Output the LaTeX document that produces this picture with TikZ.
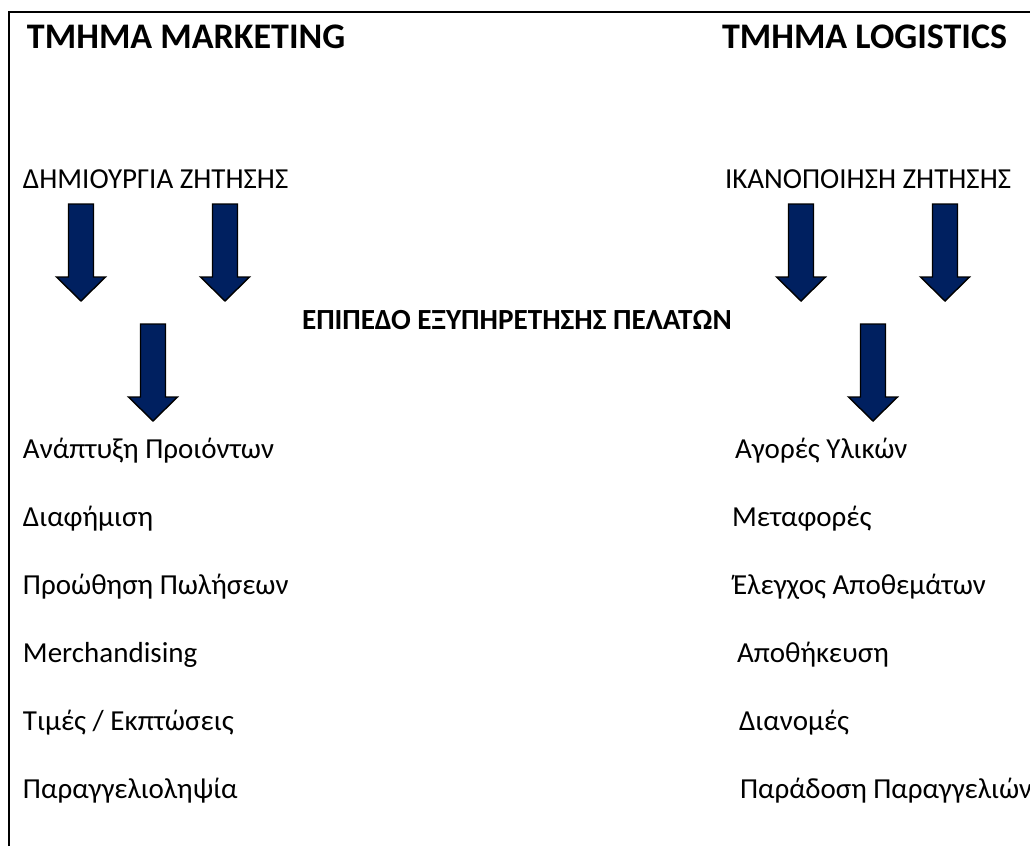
\documentclass[tikz,border=0pt]{standalone}
\usepackage{fontspec}
\setmainfont{Carlito}
\definecolor{navy}{HTML}{002060}
\tikzset{
  every node/.style={inner sep=0pt, outer sep=0pt},
  ttl/.style={anchor=base west, font=\fontsize{36}{40}\selectfont\bfseries},
  hdr/.style={anchor=base west, font=\fontsize{29}{33}\selectfont},
  mid/.style={anchor=base west, font=\fontsize{29.2}{33}\selectfont\bfseries},
  item/.style={anchor=base west, font=\fontsize{29}{33}\selectfont},
  frame/.style={line width=1.7pt, black},
  darr/.pic={\filldraw[fill=navy, draw=black, line width=1.4pt, line join=miter]
     (-12.5,0) -- (12.5,0) -- (12.5,73) -- (24.5,73) -- (0,97) -- (-24.5,73) -- (-12.5,73) -- cycle;}
}
\begin{document}
\begin{tikzpicture}[x=1pt,y=-1pt]
\useasboundingbox (0,0) rectangle (1030,846);
\draw[frame] (9,846) -- (9,12) -- (1030,12);
\node[ttl] (tl) at (27,48) {TMHMA MARKETING};
\node[ttl] (tr) at (722,48) {TMHMA LOGISTICS};
\node[hdr] (hl) at (23,188) {ΔΗΜΙΟΥΡΓΙΑ ΖΗΤΗΣΗΣ};
\node[hdr] (hr) at (725,188) {ΙΚΑΝΟΠΟΙΗΣΗ ΖΗΤΗΣΗΣ};
\node[mid] (mid) at (302,329) {ΕΠΙΠΕΔΟ ΕΞΥΠΗΡΕΤΗΣΗΣ ΠΕΛΑΤΩΝ};
\pic at (81,204) {darr};
\pic at (225,204) {darr};
\pic at (153,324) {darr};
\pic at (801,204) {darr};
\pic at (945,204) {darr};
\pic at (873,324) {darr};
\node[item] (l1) at (23,458) {Ανάπτυξη Προιόντων};
\node[item] (l2) at (23,526) {Διαφήμιση};
\node[item] (l3) at (23,594) {Προώθηση Πωλήσεων};
\node[item] (l4) at (23,662) {Merchandising};
\node[item] (l5) at (23,730) {Τιμές / Εκπτώσεις};
\node[item] (l6) at (23,798) {Παραγγελιοληψία};
\node[item] (r1) at (735,458) {Αγορές Υλικών};
\node[item] (r2) at (732,526) {Μεταφορές};
\node[item] (r3) at (733,594) {Έλεγχος Αποθεμάτων};
\node[item] (r4) at (737,662) {Αποθήκευση};
\node[item] (r5) at (739,730) {Διανομές};
\node[item] (r6) at (740,798) {Παράδοση Παραγγελιών};
\end{tikzpicture}
\end{document}
